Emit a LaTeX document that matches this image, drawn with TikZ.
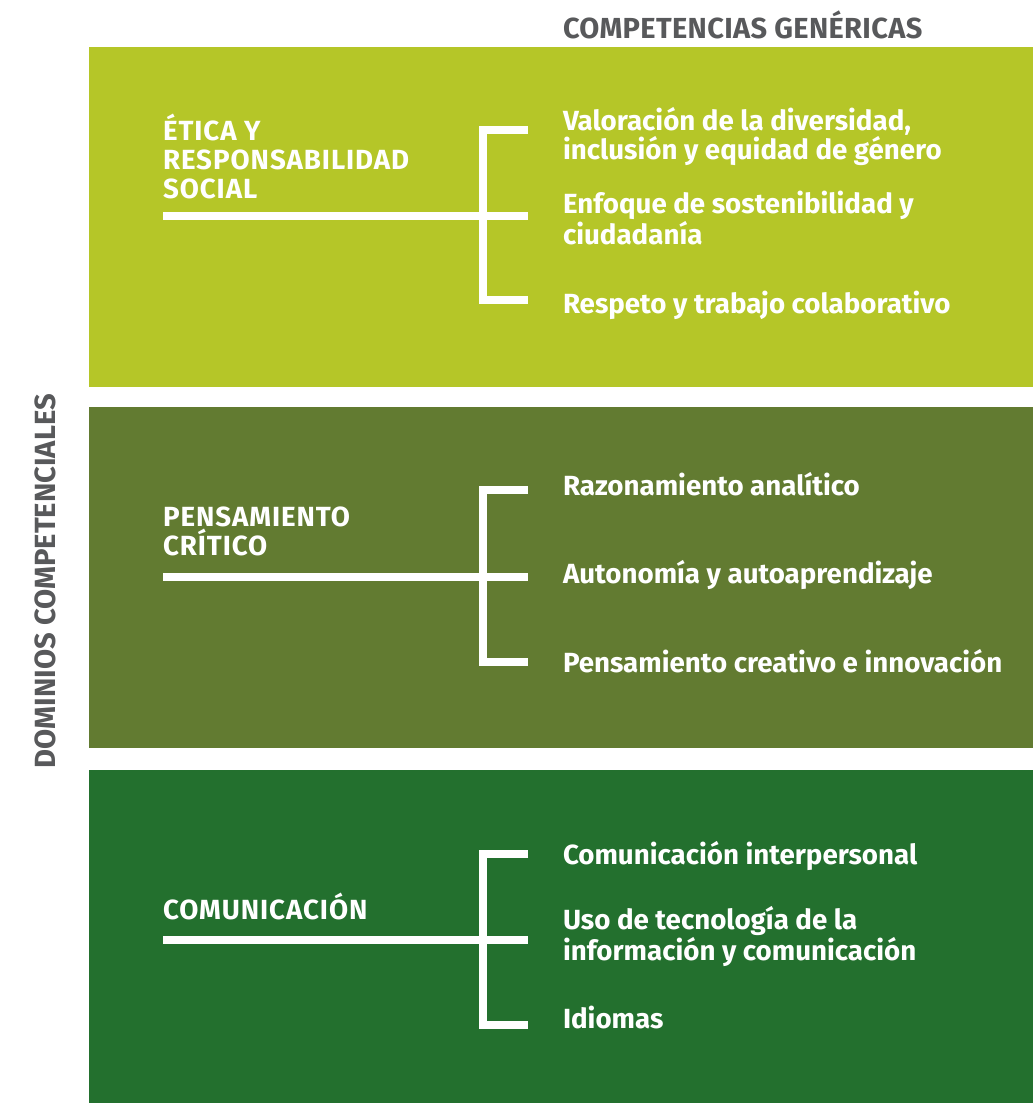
\documentclass[tikz,border=0pt]{standalone}
\usepackage{fontspec}
\setmainfont{Fira Sans}
\newfontfamily\capsfont{Fira Sans}[LetterSpace=3.4]
\newfontfamily\grisfont{Fira Sans}[LetterSpace=1.2]
\usetikzlibrary{positioning}
\definecolor{lima}{HTML}{B5C628}
\definecolor{oliva}{HTML}{627B31}
\definecolor{verde}{HTML}{23702E}
\definecolor{gris}{HTML}{58595B}

\begin{document}
\begin{tikzpicture}
  [x=1pt,y=-1pt,
   every node/.style={inner sep=0pt,outer sep=0pt,align=left,anchor=base west},
   dom/.style={text=white,font=\capsfont\bfseries\fontsize{27.7}{29}\selectfont},
   comp/.style={text=white,font=\bfseries\fontsize{27.7}{29}\selectfont},
   titulo/.style={text=gris,font=\grisfont\bfseries\fontsize{29}{31}\selectfont},
   lateral/.style={text=gris,font=\bfseries\fontsize{29.2}{31}\selectfont,rotate=90},
   rama/.style={draw=white,line width=8pt,miter limit=10}]
  \useasboundingbox (0,0) rectangle (1033,1103);

  \fill[lima]  (89,47)  rectangle (1033,387);
  \fill[oliva] (89,407) rectangle (1033,748);
  \fill[verde] (89,770) rectangle (1033,1103);

  \node[titulo] (tit) at (563,38) {COMPETENCIAS GENÉRICAS};
  \node[lateral] (lado) at (55,768) {DOMINIOS COMPETENCIALES};

  \node[dom] (d1) at (163,198) {ÉTICA Y\\RESPONSABILIDAD\\SOCIAL};
  \node[dom] (d2) at (163,555) {PENSAMIENTO\\CRÍTICO};
  \node[dom] (d3) at (163,919) {COMUNICACIÓN};

  \node[comp] (c11) at (563,159) {Valoración de la diversidad,\\inclusión y equidad de género};
  \node[comp] (c12) at (563,244) {Enfoque de sostenibilidad y\\ciudadanía};
  \node[comp] (c13) at (563,313) {Respeto y trabajo colaborativo};
  \node[comp] (c21) at (563,495) {Razonamiento analítico};
  \node[comp] (c22) at (563,583) {Autonomía y autoaprendizaje};
  \node[comp] (c23) at (563,672) {Pensamiento creativo e innovación};
  \node[comp] (c31) at (563,864) {Comunicación interpersonal};
  \node[comp] (c32) at (563,960) {Uso de tecnología de la\\información y comunicación};
  \node[comp] (c33) at (563,1028) {Idiomas};

  \foreach \k/\t/\m/\b in {1/130/216/300,2/490/577/662,3/854/940/1025}
  {
    \coordinate (s\k) at (163,\m);
    \coordinate (e\k) at (528,\m);
    \coordinate (a\k) at (528,\t);
    \coordinate (b\k) at (482.5,\t);
    \coordinate (c\k) at (482.5,\b);
    \coordinate (z\k) at (528,\b);
    \draw[rama] (s\k) -- (e\k);
    \draw[rama] (a\k) -- (b\k) -- (c\k) -- (z\k);
  }

\end{tikzpicture}
\end{document}
